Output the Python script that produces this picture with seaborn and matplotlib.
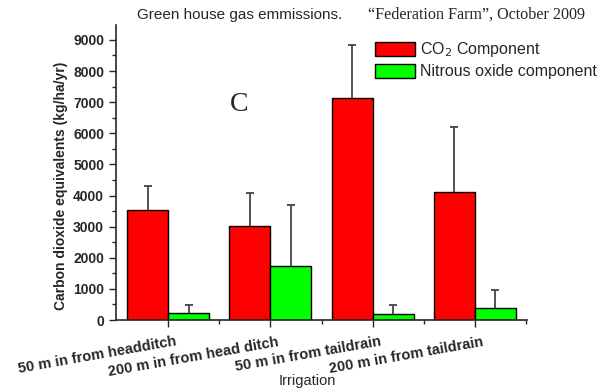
import numpy as np
import pandas as pd
import matplotlib
matplotlib.use("Agg")
import matplotlib.pyplot as plt
import matplotlib.transforms as mtrans
from matplotlib.ticker import MultipleLocator, FixedLocator
import seaborn as sns

sites = ["50 m in from headditch", "200 m in from head ditch",
         "50 m in from taildrain", "200 m in from taildrain"]
components = ["CO$_2$ Component", "Nitrous oxide component"]
co2_values = [3550, 3010, 7150, 4100]
co2_err = [770, 1070, 1700, 2090]
n2o_values = [215, 1740, 185, 390]
n2o_err = [280, 1940, 310, 590]
colors = ["#ff0000", "#00ff00"]

df = pd.DataFrame({
    "site": sites * 2,
    "component": [components[0]] * 4 + [components[1]] * 4,
    "value": co2_values + n2o_values,
})

sns.set_style("ticks")
plt.rcParams["font.family"] = ["Liberation Sans", "DejaVu Sans"]

fig = plt.figure(figsize=(6.08, 3.90), dpi=100)
ax = fig.add_axes([116 / 608, 1 - 320 / 390, (527 - 116) / 608, (320 - 25) / 390])

sns.barplot(data=df, x="site", y="value", hue="component", palette=colors,
            order=sites, hue_order=components, width=0.8, errorbar=None,
            edgecolor="black", linewidth=1.0, ax=ax, saturation=1)

for cont, errs in zip(ax.containers[:2], [co2_err, n2o_err]):
    xs = [p.get_x() + p.get_width() / 2 for p in cont.patches]
    hs = [p.get_height() for p in cont.patches]
    eb = ax.errorbar(xs, hs, yerr=[np.zeros(len(errs)), errs], fmt="none",
                     ecolor="#444444", elinewidth=1.3, capsize=3, capthick=1.3, zorder=1)
    caps = eb[1]
    if len(caps) >= 2:
        caps[0].set_visible(False)

ax.set_ylim(0, 9480)
ax.set_xlim(-0.51, 3.51)
ax.yaxis.set_major_locator(MultipleLocator(1000))
ax.yaxis.set_minor_locator(MultipleLocator(500))
ax.xaxis.set_minor_locator(FixedLocator([0.5, 1.5, 2.5, 3.5]))
ax.tick_params(axis="both", which="major", length=5, width=1, direction="out")
ax.tick_params(axis="both", which="minor", length=3, width=1, direction="out")
for lbl in ax.get_yticklabels():
    lbl.set_fontweight("bold")
    lbl.set_fontsize(10)
ax.set_xticks(range(len(sites)))
ax.set_xticklabels(sites, rotation=10, ha="right", rotation_mode="anchor",
                   fontsize=10.5, fontweight="bold")
offset = mtrans.ScaledTranslation(7 / 100, -3 / 100, fig.dpi_scale_trans)
for lbl in ax.get_xticklabels():
    lbl.set_transform(lbl.get_transform() + offset)

sns.despine(ax=ax)
for sp in ["left", "bottom"]:
    ax.spines[sp].set_linewidth(1.2)

ax.set_ylabel("Carbon dioxide equivalents (kg/ha/yr)", fontsize=10, fontweight="bold")
ax.set_xlabel("Irrigation", fontsize=10.5)
ax.yaxis.set_label_coords(-0.118, 0.455)
ax.xaxis.set_label_coords((307 - 116) / 411, -0.183)

leg = ax.legend(loc="upper left", bbox_to_anchor=(0.615, 0.97), frameon=False,
                fontsize=11.5, handlelength=2.5, handleheight=0.95, handletextpad=0.3,
                labelspacing=0.3, borderaxespad=0)

fig.text(240 / 608, 1 - 15 / 390, "Green house gas emmissions.", fontsize=11,
         ha="center", va="center")
fig.text(476 / 608, 1 - 15 / 390, "\u201cFederation Farm\u201d, October 2009",
         fontsize=11.6, ha="center", va="center",
         family=["Liberation Serif", "DejaVu Serif"])
ax.text(0.3, 0.729, "C", transform=ax.transAxes, fontsize=20, ha="center",
        va="center", family=["Liberation Serif", "DejaVu Serif"])

fig.savefig("out.png", dpi=100)
